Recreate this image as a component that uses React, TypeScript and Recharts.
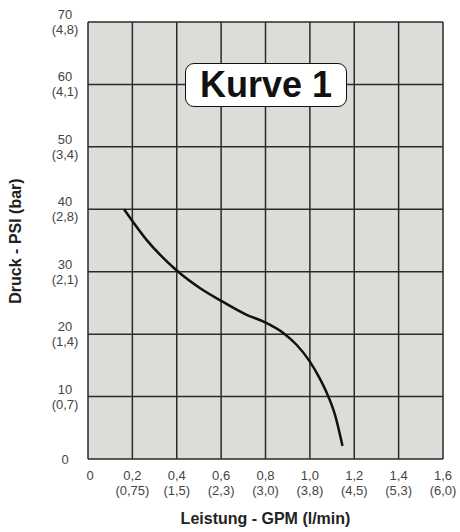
import React from "react";
import { LineChart, Line, XAxis, YAxis, CartesianGrid } from "recharts";

const flowGpm = [0.1625, 0.264, 0.4, 0.504, 0.602, 0.715, 0.798, 0.88, 0.94, 1.0, 1.04, 1.076, 1.114, 1.147];
const pressurePsi = [40, 35.1, 30.2, 27.4, 25.3, 23.1, 21.9, 20.2, 18.3, 15.6, 13.2, 10.6, 7.0, 2.1];

const xTicks = [0, 0.2, 0.4, 0.6, 0.8, 1.0, 1.2, 1.4, 1.6];
const xTickLabels = ["0", "0,2", "0,4", "0,6", "0,8", "1,0", "1,2", "1,4", "1,6"];
const xTickSubLabels = ["", "(0,75)", "(1,5)", "(2,3)", "(3,0)", "(3,8)", "(4,5)", "(5,3)", "(6,0)"];

const yTicks = [0, 10, 20, 30, 40, 50, 60, 70];
const yTickLabels = ["0", "10", "20", "30", "40", "50", "60", "70"];
const yTickSubLabels = ["", "(0,7)", "(1,4)", "(2,1)", "(2,8)", "(3,4)", "(4,1)", "(4,8)"];

const titleText = "Kurve 1";
const xTitle = "Leistung - GPM (l/min)";
const yTitle = "Druck - PSI (bar)";

const data = flowGpm.map((g, i) => ({ gpm: g, psi: pressurePsi[i] }));

const FONT = "'Liberation Sans', Arial, sans-serif";
const TICK_COLOR = "#444";

const XTick = (props: any) => {
  const { x, y, payload } = props;
  const i = xTicks.findIndex((t) => Math.abs(t - payload.value) < 1e-6);
  const sub = xTickSubLabels[i];
  const dx = i === 0 ? 2 : 0;
  return (
    <g>
      <text x={x + dx} y={y + 21} textAnchor="middle" fontSize={13} fill={TICK_COLOR} fontFamily={FONT}>
        {xTickLabels[i]}
      </text>
      {sub ? (
        <text x={x} y={y + 36} textAnchor="middle" fontSize={13} fill={TICK_COLOR} fontFamily={FONT}>
          {sub}
        </text>
      ) : null}
    </g>
  );
};

const YTick = (props: any) => {
  const { x, y, payload } = props;
  const i = yTicks.findIndex((t) => Math.abs(t - payload.value) < 1e-6);
  const sub = yTickSubLabels[i];
  const cx = x - 23;
  if (!sub) {
    return (
      <text x={cx} y={y + 4.5} textAnchor="middle" fontSize={13} fill={TICK_COLOR} fontFamily={FONT}>
        {yTickLabels[i]}
      </text>
    );
  }
  return (
    <g>
      <text x={cx} y={y - 3} textAnchor="middle" fontSize={13} fill={TICK_COLOR} fontFamily={FONT}>
        {yTickLabels[i]}
      </text>
      <text x={cx} y={y + 12} textAnchor="middle" fontSize={13} fill={TICK_COLOR} fontFamily={FONT}>
        {sub}
      </text>
    </g>
  );
};

export default function App() {
  return (
    <div style={{ position: "absolute", left: 0, top: 0, width: 460, height: 532, background: "#fff" }}>
      <LineChart width={460} height={532} data={data} margin={{ top: 22, right: 17, bottom: 0, left: 0 }}>
        <CartesianGrid fill="#dcdcd8" stroke="#2a2a2a" strokeWidth={1.5} />
        <XAxis
          dataKey="gpm"
          type="number"
          domain={[0, 1.6]}
          ticks={xTicks}
          axisLine={false}
          tickLine={false}
          tickSize={0}
          tickMargin={0}
          height={73}
          tick={<XTick />}
          interval={0}
        />
        <YAxis
          type="number"
          domain={[0, 70]}
          ticks={yTicks}
          axisLine={false}
          tickLine={false}
          tickSize={0}
          tickMargin={0}
          width={88}
          tick={<YTick />}
          interval={0}
        />
        <Line
          type="monotone"
          dataKey="psi"
          stroke="#111"
          strokeWidth={2.5}
          dot={false}
          isAnimationActive={false}
        />
      </LineChart>
      <div
        style={{
          position: "absolute",
          left: 0,
          top: 523 - 12,
          width: 531,
          textAlign: "center",
          fontFamily: FONT,
          fontWeight: "bold",
          fontSize: 16,
          lineHeight: "16px",
          color: "#222",
          whiteSpace: "nowrap",
        }}
      >
        {xTitle}
      </div>
      <div
        style={{
          position: "absolute",
          left: 16 - 100,
          top: 241 - 9,
          width: 200,
          height: 18,
          textAlign: "center",
          fontFamily: FONT,
          fontWeight: "bold",
          fontSize: 16,
          lineHeight: "18px",
          color: "#222",
          transform: "rotate(-90deg)",
          whiteSpace: "nowrap",
        }}
      >
        {yTitle}
      </div>
      <div
        style={{
          position: "absolute",
          left: 185,
          top: 63,
          width: 162,
          height: 44,
          boxSizing: "border-box",
          border: "1.5px solid #111",
          borderRadius: 9,
          background: "#fff",
          fontFamily: FONT,
          fontWeight: "bold",
          fontSize: 36,
          lineHeight: "41px",
          textAlign: "center",
          color: "#111",
          whiteSpace: "nowrap",
        }}
      >
        {titleText}
      </div>
    </div>
  );
}
